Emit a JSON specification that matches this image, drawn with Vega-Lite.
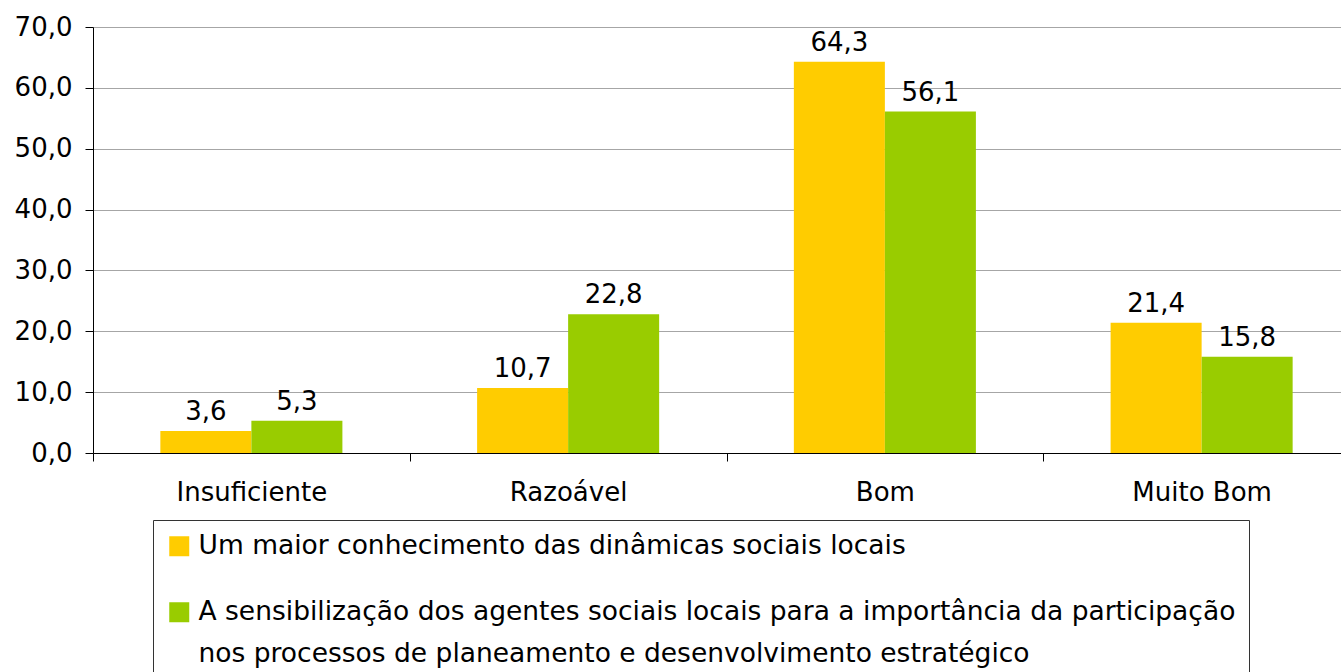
{
  "$schema": "https://vega.github.io/schema/vega-lite/v6.json",
  "width": 1248,
  "height": 426,
  "autosize": {"type": "none"},
  "padding": {"left": 93, "top": 27, "right": 0, "bottom": 219},
  "config": {
    "locale": {"number": {"decimal": ",", "thousands": ".", "grouping": [3], "currency": ["", " €"]}},
    "view": {"stroke": null},
    "font": "DejaVu Sans",
    "style": {"guide-label": {"lineHeight": 42}}
  },
  "data": {
    "values": [
      {"categoria": "Insuficiente", "serie": "Um maior conhecimento das dinâmicas sociais locais", "valor": 3.6},
      {"categoria": "Insuficiente", "serie": "A sensibilização dos agentes sociais locais para a importância da participação nos processos de planeamento e desenvolvimento estratégico", "valor": 5.3},
      {"categoria": "Razoável", "serie": "Um maior conhecimento das dinâmicas sociais locais", "valor": 10.7},
      {"categoria": "Razoável", "serie": "A sensibilização dos agentes sociais locais para a importância da participação nos processos de planeamento e desenvolvimento estratégico", "valor": 22.8},
      {"categoria": "Bom", "serie": "Um maior conhecimento das dinâmicas sociais locais", "valor": 64.3},
      {"categoria": "Bom", "serie": "A sensibilização dos agentes sociais locais para a importância da participação nos processos de planeamento e desenvolvimento estratégico", "valor": 56.1},
      {"categoria": "Muito Bom", "serie": "Um maior conhecimento das dinâmicas sociais locais", "valor": 21.4},
      {"categoria": "Muito Bom", "serie": "A sensibilização dos agentes sociais locais para a importância da participação nos processos de planeamento e desenvolvimento estratégico", "valor": 15.8}
    ]
  },
  "encoding": {
    "x": {
      "field": "categoria", "type": "nominal",
      "sort": ["Insuficiente", "Razoável", "Bom", "Muito Bom"],
      "scale": {"paddingInner": 0, "paddingOuter": 0, "range": [0, 1267]},
      "axis": {"title": null, "labelAngle": 0, "tickBand": "extent", "domainColor": "black", "tickColor": "black", "tickSize": 8, "labelFontSize": 26, "labelColor": "black", "labelPadding": 18}
    },
    "xOffset": {
      "field": "serie", "type": "nominal",
      "sort": ["Um maior conhecimento das dinâmicas sociais locais", "A sensibilização dos agentes sociais locais para a importância da participação nos processos de planeamento e desenvolvimento estratégico"],
      "scale": {"paddingInner": 0, "paddingOuter": 0.74}
    },
    "y": {
      "field": "valor", "type": "quantitative",
      "scale": {"domain": [0, 70], "nice": false},
      "axis": {"title": null, "values": [0, 10, 20, 30, 40, 50, 60, 70], "format": ".1f", "grid": true, "gridColor": "#a6a6a6", "domainColor": "black", "tickColor": "black", "tickSize": 8, "labelFontSize": 26, "labelColor": "black", "labelPadding": 13}
    }
  },
  "layer": [
    {
      "mark": {"type": "bar"},
      "encoding": {
        "color": {
          "field": "serie", "type": "nominal",
          "sort": ["Um maior conhecimento das dinâmicas sociais locais", "A sensibilização dos agentes sociais locais para a importância da participação nos processos de planeamento e desenvolvimento estratégico"],
          "scale": {"range": ["#FFCC00", "#99CC00"]},
          "legend": {
            "orient": "none", "legendX": 60, "legendY": 493, "title": null,
            "strokeColor": "#333333", "fillColor": "white", "padding": 13,
            "symbolType": "square", "symbolSize": 400, "symbolStrokeWidth": 0,
            "labelFontSize": 26.5, "labelColor": "black", "labelOffset": 6, "labelLimit": 2000, "rowPadding": 39,
            "labelExpr": "indexof(datum.label, 'A sensib') == 0 ? ['A sensibilização dos agentes sociais locais para a importância da participação', 'nos processos de planeamento e desenvolvimento estratégico'] : datum.label"
          }
        }
      }
    },
    {
      "mark": {"type": "text", "baseline": "bottom", "dy": -6, "fontSize": 26, "color": "black"},
      "encoding": {"text": {"field": "valor", "type": "quantitative", "format": ".1f"}}
    }
  ]
}
